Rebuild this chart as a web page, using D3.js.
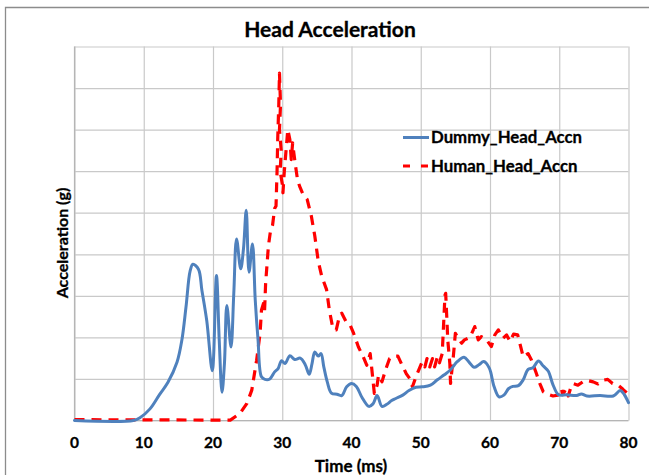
<!DOCTYPE html>
<html>
<head>
<meta charset="utf-8">
<script src="https://cdn.jsdelivr.net/npm/d3@7"></script>
<style>
  html, body { margin: 0; padding: 0; background: #fff; }
  svg { display: block; }
  text { font-family: Lato, "Open Sans", sans-serif; font-weight: bold; fill: #000; stroke: #000; stroke-width: 0.3; }
</style>
</head>
<body>
<svg id="chart" width="649" height="475"></svg>
<script>
// Time axis ticks (ms) and acceleration grid steps (g)
const timeTicks = [0, 10, 20, 30, 40, 50, 60, 70, 80];
const accelGrid = [0, 10, 20, 30, 40, 50, 60, 70, 80, 90];

// Dummy head acceleration trace
const dummyTime = [0, 8.5, 9.4, 10.9, 12.3, 13.5, 14.8, 15.5, 16.1, 16.7, 17.1, 17.9, 18.4, 19.1, 19.9,
  20.5, 20.9, 21.3, 21.65, 22.0, 22.6, 23.0, 23.4, 24.0, 24.4, 24.8, 25.2, 25.7, 26.1, 26.5, 27.0,
  27.5, 28.2, 28.9, 29.4, 29.9, 30.4, 31.1, 31.8, 32.6, 33.3, 33.9, 34.3, 34.7, 35.2, 35.6, 36.0,
  36.5, 37.1, 37.9, 38.6, 39.3, 40.0, 40.7, 41.5, 42.5, 43.1, 43.7, 44.4, 45.1, 45.8, 46.4, 47.4,
  48.3, 49.3, 50.2, 51.4, 52.4, 53.4, 54.3, 55.3, 56.25, 57.0, 57.7, 58.4, 59.1, 59.9, 60.6, 61.3,
  62.0, 62.7, 63.3, 64.1, 64.8, 65.5, 66.2, 67.0, 67.7, 68.4, 69.1, 69.9, 71.1, 72.5, 73.2, 74.0,
  75.9, 77.8, 78.8, 79.4, 80];
const dummyAccel = [0, 0, 0.6, 2.8, 6.3, 9.2, 14, 19.3, 27.3, 36, 37.6, 36.4, 31.3, 24, 12,
  34.9, 19.3, 6.8, 13.6, 27.7, 17.7, 30.5, 43.7, 36.5, 41.3, 50.6, 35.7, 42.5, 29, 19.5, 10.5,
  9.9, 10, 11.7, 12.5, 14.4, 13.7, 15.6, 14.7, 15, 13.5, 11.1, 13.7, 16.5, 15.5, 16.1, 12.9,
  9.3, 6.6, 6.3, 6, 8.1, 8.9, 8.2, 5.6, 3.4, 4, 6, 3.4, 3.9, 4.8, 5.3, 6.1,
  7.2, 8, 8.1, 8.5, 9.8, 11, 12.2, 14.2, 15.2, 14, 12.8, 13.4, 14.2, 12.6, 8.1, 5.7,
  6.1, 7.7, 8.2, 8.4, 9.8, 12.3, 12.7, 14.3, 13.1, 11.9, 8.6, 6.2, 6.2, 6, 6.4, 5.9,
  6, 5.9, 7.2, 6.2, 4.3];

// Human head acceleration trace
const humanTime = [0, 21, 22.5, 23.9, 24.9, 25.6, 26.3, 26.8, 27.0, 27.3, 27.45, 27.6, 28.0, 28.3,
  28.6, 28.9, 29.1, 29.25, 29.35, 29.5, 29.6, 29.75, 29.6, 29.85, 29.7, 30.0, 30.1, 30.3, 30.6,
  30.8, 31.1, 31.3, 31.5, 31.7, 31.9, 32.2, 32.5, 33.0, 33.6, 34.2, 34.7, 35.2, 35.7, 36.4, 36.8,
  37.3, 37.8, 38.3, 38.6, 39.3, 39.8, 40.3, 41.0, 41.7, 42.2, 42.7, 42.9, 43.3, 43.7, 43.9, 44.4,
  44.9, 45.5, 46.2, 46.7, 47.2, 47.9, 48.4, 48.8, 49.3, 49.9, 50.2, 50.6, 50.9, 51.3, 51.7, 52.0,
  52.4, 52.7, 53.1, 53.5, 53.6, 53.8, 53.9, 54.2, 54.3, 54.7, 55.0, 55.4, 55.9, 56.3, 57.1, 57.8,
  58.3, 58.75, 59.5, 60.2, 60.7, 61.2, 61.9, 62.4, 62.9, 63.4, 64.0, 64.5, 64.8, 65.5, 66.0, 66.7,
  67.2, 67.7, 68.4, 69.1, 69.8, 70.3, 70.5, 71.0, 71.3, 71.7, 72.0, 72.7, 73.4, 73.9, 74.9, 75.6,
  76.3, 77.0, 77.7, 78.5, 79.2, 80];
const humanAccel = [0.2, 0.1, 0.1, 1.7, 4.1, 7.3, 14.5, 21, 26.6, 28.2, 26.5, 33, 42, 45.6,
  47, 51, 51.6, 60, 68, 76, 83.6, 76, 70, 65, 60, 57, 54.8, 60, 66,
  70, 67.6, 62.8, 66.8, 64, 61.5, 58, 56.4, 54.4, 53.2, 49.2, 44.4, 38.3, 34.7, 31.5, 26.6,
  22.2, 21.8, 25.4, 25.8, 23.5, 23, 21, 17.7, 15.3, 13.3, 16.1, 12.9, 6.5, 8.5, 10.9, 9.3,
  12.1, 14.9, 15.5, 15.5, 13.7, 11.3, 10.1, 8.1, 10.5, 12.9, 14.1, 12.9, 14.9, 12.9, 14.9, 12.9,
  15.3, 13.9, 16.1, 30.2, 30.6, 23.4, 19.4, 13.7, 8.9, 15.3, 21, 19.8, 18.6, 19.4, 20, 22.6,
  19.4, 20.2, 19.4, 17.8, 20.6, 21.8, 19.8, 20.6, 19, 20.8, 20.6, 17.3, 15.3, 16.1, 14.5, 11.3,
  8.9, 6.9, 6.3, 5.9, 6.1, 7.7, 6.2, 7.7, 5.9, 8.1, 8.9, 8.5, 9.3, 9.7, 9.3, 8.8,
  9.7, 9.9, 8.9, 8.5, 7.5, 6.3];

const seriesNames = ["Dummy_Head_Accn", "Human_Head_Accn"];
const seriesColors = ["#4F81BD", "#FF0000"];

const svg = d3.select("#chart");
const plot = { left: 74.5, right: 628.5, top: 46.5, bottom: 420.5 };

// Outer chart frame
svg.append("path")
  .attr("d", "M5.5,480 V7.5 H660")
  .attr("fill", "none")
  .attr("stroke", "#8c8c8c")
  .attr("stroke-width", 1.3);

const x = d3.scaleLinear().domain([0, 80]).range([plot.left, plot.right]);
const y = d3.scaleLinear().domain([0, 90]).range([plot.bottom, plot.top]);

// Gridlines
svg.append("g")
  .attr("transform", `translate(0,${plot.bottom})`)
  .call(d3.axisBottom(x).tickValues(timeTicks).tickSize(-(plot.bottom - plot.top)).tickFormat(""))
  .call(g => g.select(".domain").remove())
  .call(g => g.selectAll("line").attr("stroke", "#c9c9c9").attr("stroke-width", 1.2));

svg.append("g")
  .attr("transform", `translate(${plot.left},0)`)
  .call(d3.axisLeft(y).tickValues(accelGrid).tickSize(-(plot.right - plot.left)).tickFormat(""))
  .call(g => g.select(".domain").remove())
  .call(g => g.selectAll("line").attr("stroke", "#c9c9c9").attr("stroke-width", 1.2));

// Axis lines
svg.append("line")
  .attr("x1", plot.left).attr("x2", plot.left)
  .attr("y1", plot.top).attr("y2", plot.bottom)
  .attr("stroke", "#b5b5b5").attr("stroke-width", 1.2);
svg.append("line")
  .attr("x1", plot.left).attr("x2", plot.right)
  .attr("y1", plot.bottom).attr("y2", plot.bottom)
  .attr("stroke", "#b5b5b5").attr("stroke-width", 1.2);

// Time tick labels
svg.append("g")
  .selectAll("text")
  .data(timeTicks)
  .join("text")
  .attr("x", d => x(d))
  .attr("y", 448)
  .attr("text-anchor", "middle")
  .attr("font-size", 15.5)
  .text(d => d);

// Traces
const line = d3.line().x(d => x(d[0])).y(d => y(d[1]));

svg.append("path")
  .datum(humanTime.map((t, i) => [t, humanAccel[i]]))
  .attr("fill", "none")
  .attr("stroke", seriesColors[1])
  .attr("stroke-width", 3.2)
  .attr("stroke-dasharray", "10,7")
  .attr("stroke-linejoin", "round")
  .attr("d", line);

svg.append("path")
  .datum(dummyTime.map((t, i) => [t, dummyAccel[i]]))
  .attr("fill", "none")
  .attr("stroke", seriesColors[0])
  .attr("stroke-width", 3)
  .attr("stroke-linejoin", "round")
  .attr("stroke-linecap", "round")
  .attr("d", line.curve(d3.curveCatmullRom.alpha(0.5)));

// Titles
svg.append("text")
  .attr("x", 330).attr("y", 37)
  .attr("text-anchor", "middle")
  .attr("font-size", 21)
  .text("Head Acceleration");

svg.append("text")
  .attr("x", 351).attr("y", 472)
  .attr("text-anchor", "middle")
  .attr("font-size", 17)
  .text("Time (ms)");

svg.append("text")
  .attr("transform", "translate(68,243) rotate(-90)")
  .attr("text-anchor", "middle")
  .attr("font-size", 16)
  .text("Acceleration (g)");

// Legend
const legend = svg.append("g");
seriesNames.forEach((name, i) => {
  const ly = 137.5 + i * 28.5;
  legend.append("line")
    .attr("x1", 403).attr("x2", 429)
    .attr("y1", ly).attr("y2", ly)
    .attr("stroke", seriesColors[i])
    .attr("stroke-width", 3)
    .attr("stroke-dasharray", i === 1 ? "7,11" : null);
  legend.append("text")
    .attr("x", 431).attr("y", ly + 5.5)
    .attr("font-size", 16.8)
    .text(name);
});
</script>
</body>
</html>
